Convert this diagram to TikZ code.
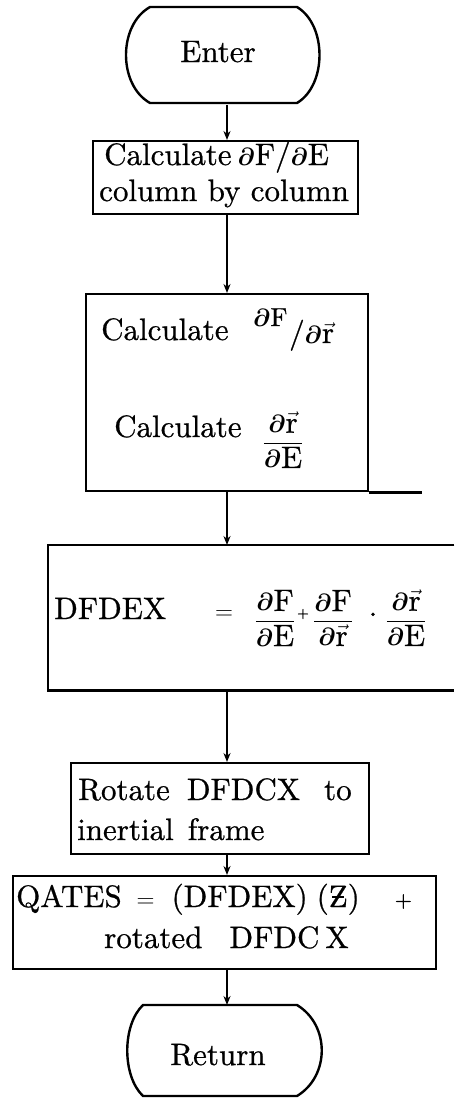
\documentclass[tikz,border=0pt]{standalone}
\usepackage{amsmath}
\usepackage{fontspec}
\newfontfamily\heavy{lmroman10-regular.otf}[FakeBold=0.7]
\usetikzlibrary{arrows.meta}
\newcommand{\zbar}{\ooalign{Z\cr\hidewidth\rule[0.3em]{0.38em}{0.06em}\hidewidth\cr}}
\newcommand{\pd}{\boldsymbol{\partial}}
\newcommand{\vr}{\vec{\text{r}}}
\begin{document}
\begin{tikzpicture}[x=1pt,y=-1pt, line width=2.4pt,
  txt/.style={inner sep=0pt, font=\heavy\fontsize{31}{37}\selectfont},
  frame/.style={draw, line width=2.4pt, inner sep=0pt, anchor=north west},
  hold/.style={inner sep=0pt, anchor=north west},
  arr/.style={-{Stealth[length=9pt,width=7pt]}, line width=1.8pt}]
\useasboundingbox (0,0) rectangle (456,1098);
\coordinate (spine) at (227,0);

% Enter terminal
\node[hold, minimum width=195pt, minimum height=96pt] (enter) at (125,7) {};
\draw (150,7) -- (297,7) .. controls (327,25) and (327,85) .. (297,103)
      -- (150,103) .. controls (118,85) and (118,25) .. (150,7) -- cycle;
\node[txt, anchor=base] (entertxt) at (218,62) {Enter};

% Box 2
\node[frame, minimum width=265pt, minimum height=73pt] (b2) at (92,140) {};
\node[txt, anchor=base west] (b2a) at (103,165) {Calculate\hspace{6pt}$\pd$F/$\pd$E};
\node[txt, anchor=base west] (b2b) at (98,201) {column by column};

% Box 3
\node[frame, minimum width=282pt, minimum height=197pt] (b3) at (85,293) {};
\draw (b3.south east) -- ++(53,0);
\node[txt, anchor=base west] (b3a) at (100,340) {Calculate};
\node[txt, anchor=base west, font=\heavy\fontsize{26}{30}\selectfont] (b3sup) at (252,326) {$\pd$F};
\node[txt, anchor=base west] (b3den) at (288,343) {/$\pd\vr$};
\node[txt, anchor=base west] (b3b) at (113,437) {Calculate};
\node[txt] (b3f) at (283,440) {$\dfrac{\pd\vr}{\pd\text{E}}$};

% Box 4 (open on the right)
\node[hold, minimum width=404pt, minimum height=143pt] (b4) at (48,545) {};
\draw (b4.north east) -- (b4.north west) -- (b4.south west) -- (b4.south east);
\node[txt, anchor=base west] (dfdex) at (53,619) {DFDEX};
\node[txt, anchor=base] (eq) at (224,619) {$=$};
\node[txt] (f1) at (275,618) {$\dfrac{\pd\text{F}}{\pd\text{E}}$};
\node[txt, font=\heavy\fontsize{15}{15}\selectfont] (plus) at (303,614) {+};
\node[txt] (f2) at (333,618) {$\dfrac{\pd\text{F}}{\pd\vr}$};
\node[txt, anchor=base] (dot) at (373,616) {.};
\node[txt] (f3) at (406,618) {$\dfrac{\pd\vr}{\pd\text{E}}$};

% Box 5
\node[frame, minimum width=298pt, minimum height=91pt] (b5) at (70,762) {};
\node[txt, anchor=base west] (b5a) at (77,800) {Rotate\hspace{17pt}DFDCX\hspace{24pt}to};
\node[txt, anchor=base west] (b5b) at (76,840) {inertial\hspace{14pt}frame};

% Box 6
\node[frame, minimum width=423pt, minimum height=93pt] (b6) at (12,875) {};
\node[txt, anchor=base west] (b6a) at (15,907) {QATES\hspace{15pt}$=$\hspace{17pt}(DFDEX)\hspace{9pt}(\zbar)\hspace{35pt}{\fontsize{22}{22}\selectfont +}};
\node[txt, anchor=base west] (b6b) at (103,948) {rotated\hspace{27pt}DFDC\hspace{6pt}X};

% Return terminal
\node[hold, minimum width=195pt, minimum height=91pt] (ret) at (127,1005) {};
\draw (143,1005) -- (297,1005) .. controls (330,1025) and (330,1076) .. (297,1096)
      -- (143,1096) .. controls (122,1076) and (122,1025) .. (143,1005) -- cycle;
\node[txt, anchor=base] (rettxt) at (218,1065) {Return};

% connectors
\draw[arr] (enter.south -| spine) -- (b2.north -| spine);
\draw[arr] (b2.south -| spine) -- (b3.north -| spine);
\draw[arr] (b3.south -| spine) -- (b4.north -| spine);
\draw[arr] (b4.south -| spine) -- (b5.north -| spine);
\draw[arr] (b5.south -| spine) -- (b6.north -| spine);
\draw[arr] (b6.south -| spine) -- (ret.north -| spine);
\end{tikzpicture}
\end{document}
